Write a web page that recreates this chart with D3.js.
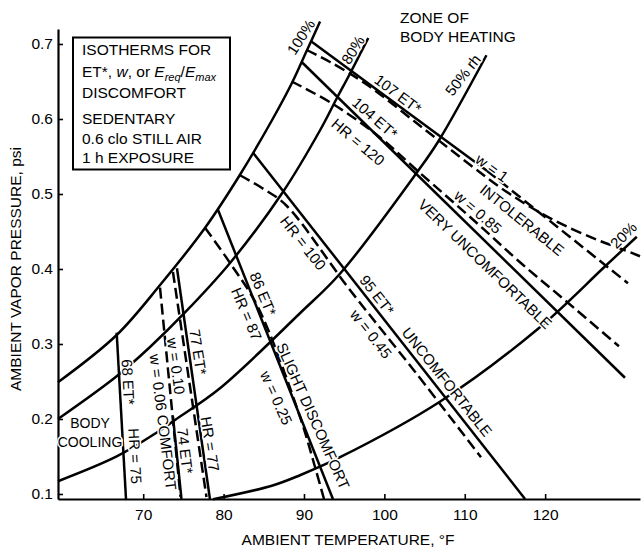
<!DOCTYPE html>
<html>
<head>
<meta charset="utf-8">
<script src="https://cdn.jsdelivr.net/npm/d3@7"></script>
<style>
  body { margin: 0; background: #fff; }
  svg { display: block; font-family: "Liberation Sans", Arial, sans-serif; }
</style>
</head>
<body>
<svg id="chart" width="642" height="548"></svg>
<script>
// ---- data: [ambient temp °F, vapor pressure psi] ----
var xTicks = [70, 80, 90, 100, 110, 120];
var yTicks = [0.1, 0.2, 0.3, 0.4, 0.5, 0.6, 0.7];

// relative humidity curves
var rh100 = [[59.4,0.249],[66.7,0.312],[72.2,0.380],[77.7,0.455],[82.0,0.525],[86.0,0.598],[88.5,0.648],[90.3,0.690],[92.0,0.730]];
var rh80  = [[59.4,0.200],[66.7,0.257],[70.85,0.296],[75.2,0.342],[80.8,0.408],[87.4,0.503],[92.0,0.585],[94.1,0.628],[95.7,0.660],[98.0,0.708]];
var rh50  = [[59.4,0.117],[66.7,0.150],[71.7,0.182],[74.0,0.199],[79.55,0.241],[89.5,0.341],[94.5,0.394],[104.0,0.528],[106.7,0.570],[112.7,0.685]];
var rh20  = [[78.7,0.093],[86.0,0.111],[89.5,0.125],[94.3,0.148],[106.9,0.223],[119.2,0.321],[127.4,0.403],[131.4,0.443]];

// ET* isotherms (solid)
var et68  = [[66.7,0.315],[67.86,0.0933]];
var et74  = [[73.7,0.203],[74.76,0.0933]];
var et77  = [[74.2,0.401],[78.3,0.0933]];
var et86  = [[79.3,0.479],[93.6,0.0933]];
var et95  = [[83.66,0.555],[117.5,0.0933]];
var et104 = [[89.71,0.676],[129.93,0.255]];
var et107 = [[90.96,0.703],[112.76,0.531]];
var et107ext = [[112.76,0.531],[130.3,0.381]];

// skin wettedness lines (dashed)
var w006 = [[72.09,0.375],[74.64,0.096]];
var w010 = [[73.7,0.396],[77.87,0.096]];
var w025 = [[77.69,0.455],[80.8,0.408],[84.28,0.349],[89.5,0.203],[91.37,0.136],[92.49,0.0933]];
var w045 = [[82.04,0.525],[84.78,0.508],[87.77,0.485],[95.72,0.372],[103.81,0.263],[112.02,0.149]];
var w085 = [[88.47,0.650],[93.45,0.621],[99.04,0.579],[104.43,0.528],[111.64,0.460],[116.87,0.409],[122.72,0.356],[129.18,0.297]];
var w100 = [[90.34,0.692],[93.24,0.676],[97.8,0.646],[104.43,0.591],[110.65,0.539],[114.38,0.509],[118.11,0.483],[122.22,0.459],[126.45,0.439],[129.68,0.426],[131.8,0.417]];

// line labels: text, temp, pressure, angle
var labels = [
  ["100%", 89.63, 0.7093, -57],
  ["80%", 96.10, 0.6920, -58],
  ["50% rh", 109.78, 0.6586, -52],
  ["20%", 129.75, 0.4450, -45],
  ["107 ET*", 101.69, 0.6333, 37],
  ["104 ET*", 98.83, 0.6013, 41],
  ["HR = 120", 96.72, 0.5693, 40],
  ["w = 1", 113.39, 0.5346, 36],
  ["INTOLERABLE", 117.12, 0.4653, 39],
  ["w = 0.85", 111.64, 0.4760, 41],
  ["VERY UNCOMFORTABLE", 112.51, 0.4066, 44],
  ["HR = 100", 89.88, 0.4346, 52],
  ["95 ET*", 99.08, 0.3653, 52],
  ["w = 0.45", 98.33, 0.3133, 52],
  ["UNCOMFORTABLE", 107.79, 0.2493, 51.5],
  ["86 ET*", 84.90, 0.3666, 67],
  ["HR = 87", 82.85, 0.3400, 67],
  ["SLIGHT DISCOMFORT", 91.12, 0.2040, 66],
  ["w = 0.25", 86.55, 0.2280, 66],
  ["77 ET*", 76.82, 0.2893, 81],
  ["HR = 77", 78.31, 0.1666, 81],
  ["w = 0.10", 74.08, 0.2706, 82],
  ["w = 0.06 COMFORT", 72.46, 0.1960, 83],
  ["74 ET*", 75.20, 0.1573, 83],
  ["68 ET*", 68.11, 0.2493, 87],
  ["HR = 75", 68.98, 0.1506, 87]
];

var legendLines = ["ISOTHERMS FOR", "", "DISCOMFORT", "SEDENTARY", "0.6 clo STILL AIR", "1 h EXPOSURE"];

// ---- drawing ----
var svg = d3.select("#chart");

var x = d3.scaleLinear().domain([59.4, 131.8]).range([58, 640]);
var y = d3.scaleLinear().domain([0.0933, 0.72]).range([499, 29]);

var smooth = d3.line().x(d => x(d[0])).y(d => y(d[1])).curve(d3.curveCatmullRom.alpha(0.5));
var straight = d3.line().x(d => x(d[0])).y(d => y(d[1]));

var lines = svg.append("g")
    .attr("fill", "none")
    .attr("stroke", "#000")
    .attr("stroke-width", 2.5)
    .attr("stroke-linecap", "butt");

[rh100, rh80, rh50, rh20].forEach(function(c) {
  lines.append("path").attr("d", smooth(c));
});
[et68, et74, et77, et86, et95, et104, et107].forEach(function(c) {
  lines.append("path").attr("d", straight(c));
});
[w006, w010, w025, w045, w085, w100, et107ext].forEach(function(c) {
  lines.append("path")
      .attr("d", c.length > 2 ? smooth(c) : straight(c))
      .attr("stroke-dasharray", "11,5");
});

// axes
var xAxis = d3.axisBottom(x).tickValues(xTicks).tickSizeInner(-5).tickSizeOuter(0).tickPadding(10);
var yAxis = d3.axisLeft(y).tickValues(yTicks).tickSizeInner(-5).tickSizeOuter(0).tickPadding(5)
    .tickFormat(d3.format(".1f"));

var gx = svg.append("g").attr("transform", "translate(0,499)").call(xAxis);
var gy = svg.append("g").attr("transform", "translate(58,0)").call(yAxis);
[gx, gy].forEach(function(g) {
  g.select(".domain").attr("stroke-width", 2.2);
  g.selectAll(".tick line").attr("stroke-width", 1.6);
  g.selectAll("text").attr("font-size", 15.5).attr("fill", "#000")
      .attr("font-family", "'Liberation Sans', Arial, sans-serif");
});

svg.append("text")
    .attr("x", 348).attr("y", 545)
    .attr("text-anchor", "middle")
    .attr("font-size", 15.5)
    .text("AMBIENT TEMPERATURE, °F");

svg.append("text")
    .attr("transform", "translate(21,269) rotate(-90)")
    .attr("text-anchor", "middle")
    .attr("font-size", 15.5)
    .text("AMBIENT VAPOR PRESSURE, psi");

// labels on the lines, with a white halo that breaks the lines underneath
svg.append("g").selectAll("text")
    .data(labels)
    .enter().append("text")
    .attr("transform", d => "translate(" + x(d[1]) + "," + y(d[2]) + ") rotate(" + d[3] + ")")
    .attr("text-anchor", "middle")
    .attr("dy", "0.35em")
    .attr("font-size", 15)
    .attr("stroke", "#fff")
    .attr("stroke-width", 3)
    .attr("stroke-linejoin", "round")
    .attr("paint-order", "stroke")
    .text(d => d[0]);

// zone notes
var zone = svg.append("text").attr("x", 400).attr("font-size", 15.5);
zone.append("tspan").attr("x", 400).attr("y", 23).text("ZONE OF");
zone.append("tspan").attr("x", 400).attr("y", 42).text("BODY HEATING");

var cool = svg.append("text").attr("text-anchor", "middle").attr("font-size", 14)
    .attr("stroke", "#fff").attr("stroke-width", 3).attr("paint-order", "stroke");
cool.append("tspan").attr("x", 90).attr("y", 428).text("BODY");
cool.append("tspan").attr("x", 90).attr("y", 447).text("COOLING");

// legend box
svg.append("rect")
    .attr("x", 73).attr("y", 37.5)
    .attr("width", 157).attr("height", 132)
    .attr("fill", "#fff")
    .attr("stroke", "#000")
    .attr("stroke-width", 2);

var legendY = [55, 77, 97.5, 124, 144, 162.5];
var leg = svg.append("g").attr("font-size", 15.5);
legendLines.forEach(function(t, i) {
  if (t) leg.append("text").attr("x", 82).attr("y", legendY[i]).text(t);
});
var l2 = leg.append("text").attr("x", 82).attr("y", legendY[1]);
l2.append("tspan").text("ET*, ");
l2.append("tspan").attr("font-style", "italic").text("w");
l2.append("tspan").text(", or ");
l2.append("tspan").attr("font-style", "italic").text("E");
l2.append("tspan").attr("font-style", "italic").attr("font-size", 11).attr("dy", 4).text("req");
l2.append("tspan").attr("dy", -4).text("/");
l2.append("tspan").attr("font-style", "italic").text("E");
l2.append("tspan").attr("font-style", "italic").attr("font-size", 11).attr("dy", 4).text("max");
</script>
</body>
</html>
